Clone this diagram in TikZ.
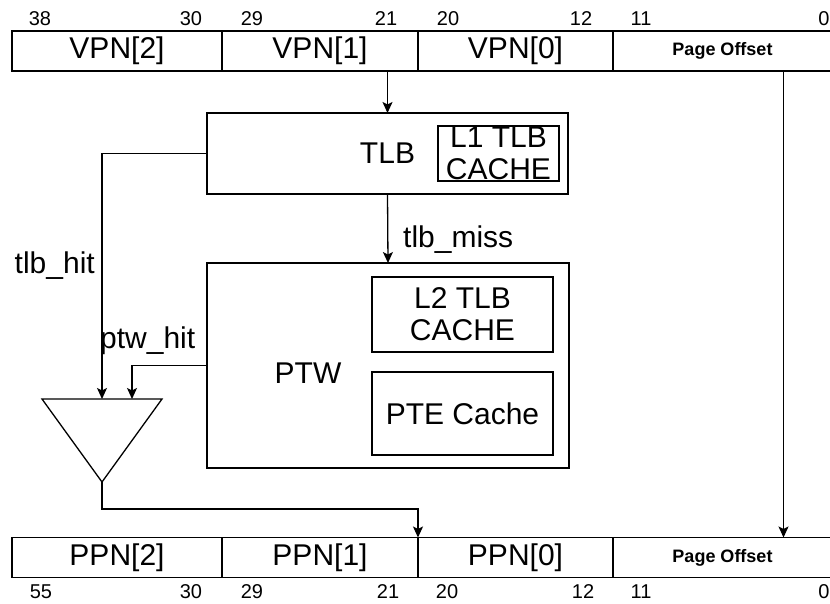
\documentclass[tikz,border=0pt]{standalone}
\usepackage{fontspec}
\setmainfont{Liberation Sans}
\usetikzlibrary{positioning,arrows.meta,calc}

\begin{document}
\begin{tikzpicture}[
  x=1pt, y=-1pt,
  font=\fontsize{30}{32}\selectfont,
  box/.style={draw, line width=1.3pt, inner sep=0pt, outer sep=0pt, align=center},
  field/.style={box, minimum height=40pt},
  offs/.style={field, font=\fontsize{18}{20}\selectfont\bfseries},
  bit/.style={inner sep=0pt, font=\fontsize{20}{22}\selectfont},
  lbl/.style={inner sep=0pt, align=center},
  wire/.style={line width=1.3pt},
  arr/.style={wire, -{Stealth[length=11pt,width=10pt,inset=2.5pt]}}]

\useasboundingbox (0,0) rectangle (830,603);

% virtual address
\node[field, minimum width=210pt] (vpn2) at (117,51) {VPN[2]};
\node[field, minimum width=196pt, right=0pt of vpn2] (vpn1) {VPN[1]};
\node[field, minimum width=195pt, right=0pt of vpn1] (vpn0) {VPN[0]};
\node[offs, minimum width=219pt, right=0pt of vpn0] (voff) {Page Offset};
\foreach \n/\x in {38/40,30/191,29/252,21/386,20/448,12/581,11/641,0/824}
  \node[bit] (t\n) at (\x,19) {\n};

% TLB
\node[box, minimum width=361pt, minimum height=81pt] (tlb) at (387.5,153.5) {TLB};
\node[box, minimum width=121pt, minimum height=55pt] (l1) at (498.5,153.5) {};
\node[lbl] (l1txt) at (l1) {L1 TLB\\CACHE};

% page table walker
\node[box, minimum width=362pt, minimum height=205pt] (ptw) at (388,365.5) {};
\node[lbl] (ptwtxt) at (308,373) {PTW};
\node[box, minimum width=181pt, minimum height=75pt] (l2) at (462.5,314.5) {L2 TLB\\CACHE};
\node[box, minimum width=181pt, minimum height=83pt, below=20pt of l2] (pte) {PTE Cache};

% mux
\coordinate (muxa) at (42,399);
\coordinate (muxb) at (162,399);
\coordinate (muxo) at (102,482);
\coordinate (hitin) at (102,399);
\coordinate (ptwin) at (132,399);
\draw[wire] (muxa) -- (muxb) -- (muxo) -- cycle;

% physical address
\node[field, minimum width=210pt] (ppn2) at (117,557.5) {PPN[2]};
\node[field, minimum width=196pt, right=0pt of ppn2] (ppn1) {PPN[1]};
\node[field, minimum width=195pt, right=0pt of ppn1] (ppn0) {PPN[0]};
\node[offs, minimum width=219pt, right=0pt of ppn0] (poff) {Page Offset};
\foreach \n/\x in {55/41,30/191,29/252,21/388,20/447,12/583,11/641,0/824}
  \node[bit] (b\n) at (\x,592) {\n};

% labels
\node[lbl, anchor=base west] (misslbl) at (403,247) {tlb\_miss};
\node[lbl, anchor=base east] (hitlbl) at (95,273) {tlb\_hit};
\node[lbl, anchor=base west] (ptwlbl) at (100,348) {ptw\_hit};

% arrows
\draw[arr] (tlb.north |- vpn1.south) -- (tlb.north);
\draw[arr] (tlb.south) -- (ptw.north);
\draw[arr] (tlb.west) -| (hitin);
\draw[arr] (ptw.west) -| (ptwin);
\draw[arr] (muxo) -- ++(0,27) -| (ppn0.north west);
\draw[arr] ([xshift=61pt]voff.south) -- ([xshift=61pt]voff.south |- poff.north);
\end{tikzpicture}
\end{document}
